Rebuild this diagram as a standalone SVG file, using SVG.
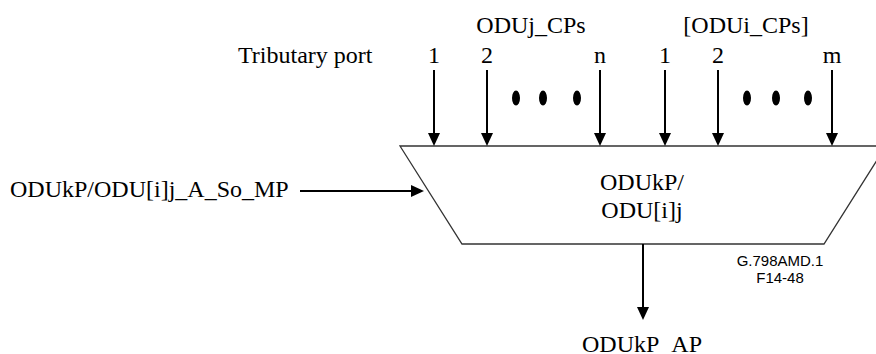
<svg xmlns="http://www.w3.org/2000/svg" width="876" height="354" viewBox="0 0 876 354">
<defs>
<style>
.t{font-family:"Liberation Serif","Times New Roman",serif;font-size:24px;fill:#000}
.s{font-family:"Liberation Sans",Arial,sans-serif;font-size:15px;fill:#000}
.c{stroke:#000;stroke-width:2;fill:none}
.box{fill:#fff;stroke:#333;stroke-width:1.3}
</style>
<marker id="ah" markerUnits="userSpaceOnUse" markerWidth="13" markerHeight="12" refX="3" refY="6" orient="auto" viewBox="0 0 13 12">
<path d="M0,0 L13,6 L0,12 z" fill="#000"/>
</marker>
</defs>
<rect width="876" height="354" fill="#fff"/>
<g id="mp">
<polygon class="box" points="400,146 886,146 824,244 462,244"/>
<text class="t" x="642" y="190" text-anchor="middle">ODUkP/</text>
<text class="t" x="642" y="218" text-anchor="middle">ODU[i]j</text>
</g>
<g id="labels">
<text class="t" x="238" y="63">Tributary port</text>
<text class="t" x="531" y="33" text-anchor="middle">ODUj_CPs</text>
<text class="t" x="746" y="33" text-anchor="middle">[ODUi_CPs]</text>
<text class="t" x="434" y="63" text-anchor="middle">1</text>
<text class="t" x="487" y="63" text-anchor="middle">2</text>
<text class="t" x="600" y="63" text-anchor="middle">n</text>
<text class="t" x="665" y="63" text-anchor="middle">1</text>
<text class="t" x="718" y="63" text-anchor="middle">2</text>
<text class="t" x="832" y="63" text-anchor="middle">m</text>
<text class="t" x="10" y="197">ODUkP/ODU[i]j_A_So_MP</text>
<text class="t" x="642" y="352" text-anchor="middle">ODUkP_AP</text>
<text class="s" x="780" y="266" text-anchor="middle">G.798AMD.1</text>
<text class="s" x="780" y="283" text-anchor="middle">F14-48</text>
</g>
<g id="dots" fill="#000">
<ellipse cx="516" cy="98" rx="4" ry="7.5"/>
<ellipse cx="543" cy="98" rx="4" ry="7.5"/>
<ellipse cx="577" cy="98" rx="4" ry="7.5"/>
<ellipse cx="747" cy="98" rx="4" ry="7.5"/>
<ellipse cx="776" cy="98" rx="4" ry="7.5"/>
<ellipse cx="808" cy="98" rx="4" ry="7.5"/>
</g>
<g id="connectors" class="c">
<line x1="434" y1="70" x2="434" y2="136" marker-end="url(#ah)"/>
<line x1="487" y1="70" x2="487" y2="136" marker-end="url(#ah)"/>
<line x1="600" y1="70" x2="600" y2="136" marker-end="url(#ah)"/>
<line x1="665" y1="70" x2="665" y2="136" marker-end="url(#ah)"/>
<line x1="718" y1="70" x2="718" y2="136" marker-end="url(#ah)"/>
<line x1="832" y1="70" x2="832" y2="136" marker-end="url(#ah)"/>
<line x1="300" y1="191" x2="414" y2="191" marker-end="url(#ah)"/>
<line x1="643" y1="244" x2="643" y2="310" marker-end="url(#ah)"/>
</g>
</svg>
